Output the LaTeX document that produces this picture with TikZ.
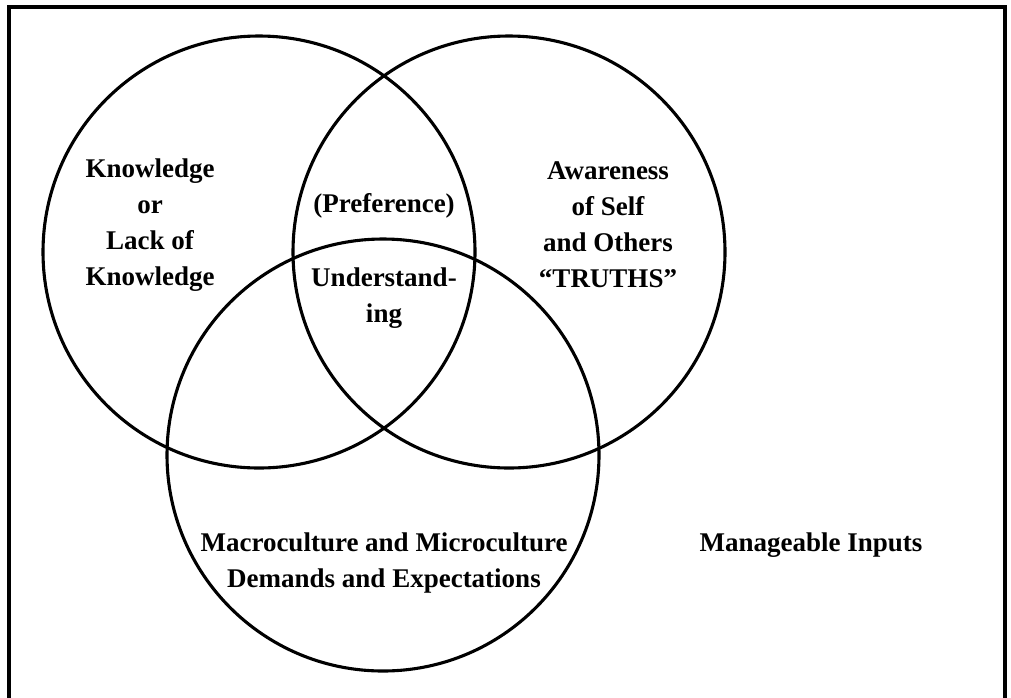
\documentclass[tikz,border=0pt]{standalone}
\usepackage{fontspec}
\setmainfont{Liberation Serif}
\begin{document}
\begin{tikzpicture}[x=1pt,y=-1pt,
  ring/.style={draw=black,line width=3.1pt,circle,inner sep=0pt,minimum size=432pt},
  lbl/.style={font=\fontsize{27}{36}\selectfont\bfseries,align=center,inner sep=0pt,text=black},
  frame/.style={draw=black,line width=3.4pt}]
\useasboundingbox (0,0) rectangle (1011,697);
\fill[white] (0,0) rectangle (1011,697);
\coordinate (bl) at (9,700);
\coordinate (tl) at (9,7);
\coordinate (tr) at (1005,7);
\coordinate (br) at (1005,700);
\draw[frame] (bl) -- (tl) -- (tr) -- (br);
\node[ring] (left) at (259,252) {};
\node[ring] (right) at (509,252) {};
\node[ring] (bottom) at (383,455) {};
\node[lbl] (know) at (150,225) {Knowledge\\or\\Lack of\\Knowledge};
\node[lbl] (aware) at (608,225) {Awareness\\of Self\\and Others\\``TRUTHS''};
\node[lbl] (pref) at (384,206) {(Preference)};
\node[lbl] (under) at (384,298) {Understand-\\ing};
\node[lbl] (macro) at (384,563) {Macroculture and Microculture\\Demands and Expectations};
\node[lbl] (inputs) at (811,545) {Manageable Inputs};
\end{tikzpicture}
\end{document}
